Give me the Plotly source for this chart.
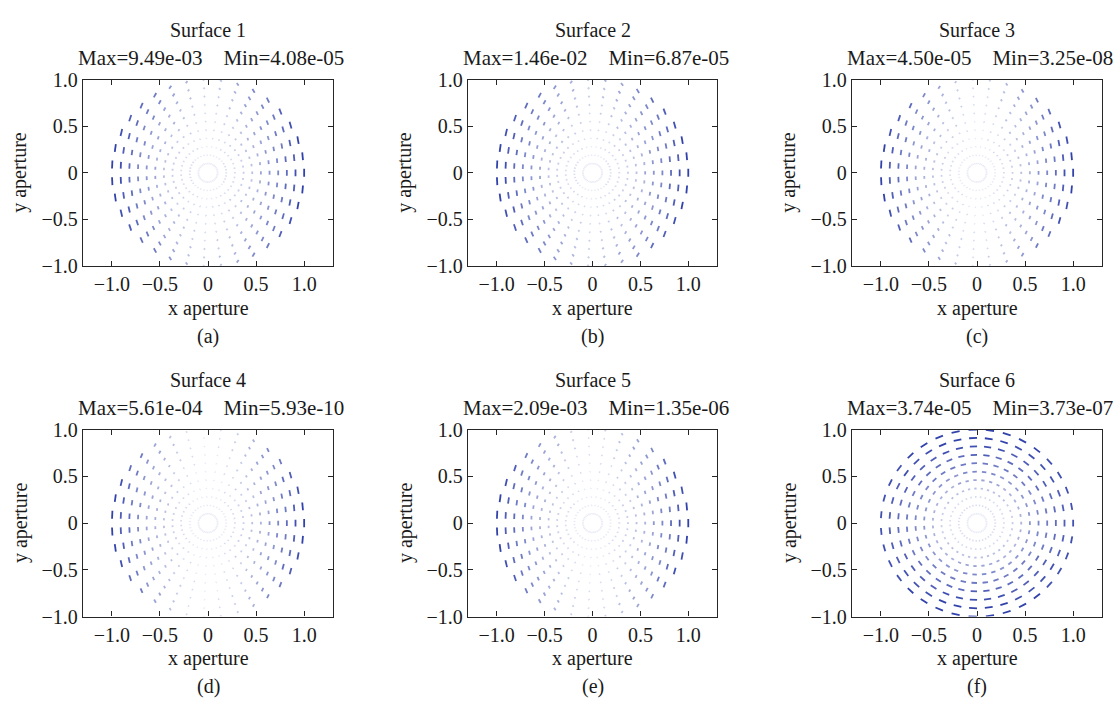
import numpy as np
import plotly.graph_objects as go

# ---------------- data ----------------
surface_titles = ["Surface 1", "Surface 2", "Surface 3", "Surface 4", "Surface 5", "Surface 6"]
max_values = ["9.49e-03", "1.46e-02", "4.50e-05", "5.61e-04", "2.09e-03", "3.74e-05"]
min_values = ["4.08e-05", "6.87e-05", "3.25e-08", "5.93e-10", "1.35e-06", "3.73e-07"]
panel_labels = ["(a)", "(b)", "(c)", "(d)", "(e)", "(f)"]

# pupil sampling: 11 rings, 35 azimuths (linspace(0, 2*pi, 36) without the repeated end)
ring_radii = [0.10, 0.19, 0.28, 0.37, 0.46, 0.55, 0.64, 0.73, 0.82, 0.91, 1.00]
n_azimuth = 35

# relative magnitude along the strongest direction, ring by ring (inner -> outer)
radial_s1 = [0.01, 0.03, 0.07, 0.13, 0.20, 0.29, 0.40, 0.52, 0.66, 0.82, 1.00]
radial_s2 = [0.01, 0.03, 0.07, 0.13, 0.20, 0.29, 0.40, 0.52, 0.66, 0.82, 1.00]
radial_s3 = [0.00, 0.02, 0.05, 0.10, 0.17, 0.26, 0.37, 0.50, 0.64, 0.81, 1.00]
radial_s4 = [0.00, 0.02, 0.05, 0.10, 0.17, 0.26, 0.37, 0.50, 0.64, 0.81, 1.00]
radial_s5 = [0.00, 0.02, 0.05, 0.10, 0.17, 0.26, 0.37, 0.50, 0.64, 0.81, 1.00]
radial_s6 = [0.01, 0.03, 0.07, 0.16, 0.30, 0.46, 0.60, 0.72, 0.84, 0.94, 1.00]

# relative magnitude versus angle from the horizontal axis (degrees below)
angle_nodes_deg = [0, 15, 30, 45, 60, 75, 90]
angular_s1 = [1.00, 0.95, 0.85, 0.70, 0.50, 0.25, 0.10]
angular_s2 = [1.00, 0.95, 0.86, 0.72, 0.54, 0.30, 0.14]
angular_s3 = [1.00, 0.94, 0.82, 0.64, 0.42, 0.18, 0.05]
angular_s4 = [1.00, 0.93, 0.78, 0.56, 0.30, 0.08, 0.00]
angular_s5 = [1.00, 0.94, 0.82, 0.62, 0.38, 0.14, 0.03]
angular_s6 = [0.82, 0.83, 0.86, 0.90, 0.95, 0.98, 1.00]

# orientation twist: 1 = tangential, <1 = turned towards the vertical
twist_per_surface = [0.5, 0.5, 0.5, 0.5, 0.5, 1.0]

radial_profiles = [radial_s1, radial_s2, radial_s3, radial_s4, radial_s5, radial_s6]
angular_profiles = [angular_s1, angular_s2, angular_s3, angular_s4, angular_s5, angular_s6]

tick_vals = [-1.0, -0.5, 0.0, 0.5, 1.0]
tick_text = ["\u22121.0", "\u22120.5", "0", "0.5", "1.0"]

# ---------------- layout geometry (pixels) ----------------
W, H = 1116, 709
col_px = [(83, 333), (468, 717), (852, 1102)]
row_px = [(71, 263), (432, 625)]

FONT = "Liberation Serif, Times New Roman, serif"
TXT = "#1a1a1a"
BLUE = np.array([42, 60, 168])

fig = go.Figure()
annotations = []

def px2fx(px):
    return px / W

def px2fy(py):
    return 1 - py / H

n_levels = 14
for k in range(6):
    row, col = divmod(k, 3)
    ax_id = "" if k == 0 else str(k + 1)
    xa, ya = "x" + ax_id, "y" + ax_id

    theta = np.linspace(0, 2 * np.pi, n_azimuth + 1)[:-1]
    R, T = np.meshgrid(np.array(ring_radii), theta, indexing="ij")
    rad = np.interp(R, ring_radii, radial_profiles[k])
    X = R * np.cos(T)
    Y = R * np.sin(T)
    # angle measured from the horizontal axis on the mirrored right half
    thr = np.arctan2(Y, np.abs(X))
    fold = np.degrees(np.abs(thr))
    ang = np.interp(fold, angle_nodes_deg, angular_profiles[k])
    mag = rad * ang
    mag = mag / mag.max()

    L = 0.012 + 0.075 * mag
    a_right = np.pi / 2 + twist_per_surface[k] * thr
    alpha = np.where(X >= 0, a_right, np.pi - a_right)
    dx = 0.5 * L * np.cos(alpha)
    dy = 0.5 * L * np.sin(alpha)

    shade = 0.10 + 0.90 * np.clip(mag, 0, 1) ** 0.8
    lvl = np.minimum((shade * n_levels).astype(int), n_levels - 1)
    for q in range(n_levels):
        sel = lvl == q
        if not sel.any():
            continue
        s = (q + 0.5) / n_levels
        c = 255 - (255 - BLUE) * s
        xs, ys = [], []
        for x0, y0, ddx, ddy in zip(X[sel], Y[sel], dx[sel], dy[sel]):
            xs += [x0 - ddx, x0 + ddx, None]
            ys += [y0 - ddy, y0 + ddy, None]
        fig.add_trace(go.Scatter(
            x=xs, y=ys, mode="lines", xaxis=xa, yaxis=ya,
            line=dict(color="rgb(%d,%d,%d)" % tuple(c.astype(int)), width=1.8),
            hoverinfo="skip", showlegend=False))

    x0p, x1p = col_px[col]
    y0p, y1p = row_px[row]
    axis_common = dict(
        showline=True, linecolor="#262626", linewidth=1.3, mirror="ticks",
        ticks="inside", ticklen=5, tickwidth=1.2, tickcolor="#262626",
        tickvals=tick_vals, ticktext=tick_text, showgrid=False, zeroline=False,
        tickfont=dict(family=FONT, size=20, color=TXT), fixedrange=True)
    fig.layout["xaxis" + ax_id] = dict(
        domain=[px2fx(x0p), px2fx(x1p)], range=[-1.3, 1.3],
        anchor=ya, **axis_common)
    fig.layout["yaxis" + ax_id] = dict(
        domain=[px2fy(y1p), px2fy(y0p)], range=[-1.0, 1.0],
        anchor=xa, **axis_common)

    cx = (x0p + x1p) / 2
    top_off = 0 if row == 0 else 361
    texts = [
        (surface_titles[k], cx, 20 + top_off, 20),
        ("Max=%s\u00a0\u00a0\u00a0\u00a0Min=%s" % (max_values[k], min_values[k]), cx + 3, 49 + top_off, 21),
        ("x aperture", cx, 307 + top_off, 20),
        (panel_labels[k], cx, 336 + top_off, 20),
    ]
    for t, tx, ty, fs in texts:
        annotations.append(dict(
            text=t, x=px2fx(tx), y=px2fy(ty), xref="paper", yref="paper",
            xanchor="center", yanchor="middle", showarrow=False,
            font=dict(family=FONT, size=fs, color=TXT)))
    annotations.append(dict(
        text="y aperture", x=px2fx(x0p - 63), y=px2fy((y0p + y1p) / 2),
        xref="paper", yref="paper", xanchor="center", yanchor="middle",
        showarrow=False, textangle=-90,
        font=dict(family=FONT, size=20, color=TXT)))

fig.update_layout(
    width=W, height=H, margin=dict(l=0, r=0, t=0, b=0),
    paper_bgcolor="white", plot_bgcolor="white",
    annotations=annotations, showlegend=False)

fig.write_html("out.html", config={"displayModeBar": False})
